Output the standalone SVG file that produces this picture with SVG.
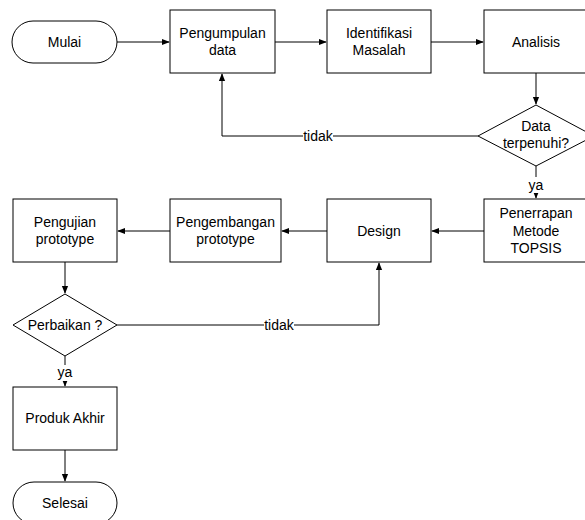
<svg xmlns="http://www.w3.org/2000/svg" width="585" height="520" viewBox="0 0 585 520">
<defs>
<style>
.n{fill:#fff;stroke:#000;stroke-width:1}
.t{font-family:"Liberation Sans",Arial,sans-serif;font-size:14px;fill:#000;text-anchor:middle}
.c{fill:none;stroke:#000;stroke-width:1}
.lb{fill:#fff}
</style>
<marker id="a" viewBox="0 0 10 10" refX="9" refY="5" markerWidth="8" markerHeight="8" markerUnits="userSpaceOnUse" orient="auto">
<path d="M0,1 L10,5 L0,9 Z" fill="#000"/>
</marker>
</defs>
<rect width="585" height="520" fill="#fff"/>
<g id="connectors">
<path class="c" d="M117,42 H169" marker-end="url(#a)"/>
<path class="c" d="M275,42 H326" marker-end="url(#a)"/>
<path class="c" d="M431,42 H483" marker-end="url(#a)"/>
<path class="c" d="M536,73 V104" marker-end="url(#a)"/>
<path class="c" d="M478,136 H222 V74" marker-end="url(#a)"/>
<rect class="lb" x="303" y="128" width="30" height="16"/>
<text class="t" x="318" y="141">tidak</text>
<path class="c" d="M536,166 V198" marker-end="url(#a)"/>
<rect class="lb" x="528" y="177" width="16" height="16"/>
<text class="t" x="536" y="190">ya</text>
<path class="c" d="M484,231 H432" marker-end="url(#a)"/>
<path class="c" d="M327,231 H282" marker-end="url(#a)"/>
<path class="c" d="M170,231 H118" marker-end="url(#a)"/>
<path class="c" d="M65,262 V293" marker-end="url(#a)"/>
<path class="c" d="M117,325 H379 V263" marker-end="url(#a)"/>
<rect class="lb" x="264" y="317" width="30" height="16"/>
<text class="t" x="279" y="330">tidak</text>
<path class="c" d="M65,356 V386" marker-end="url(#a)"/>
<rect class="lb" x="57" y="365" width="16" height="16"/>
<text class="t" x="65" y="377">ya</text>
<path class="c" d="M65,450 V481" marker-end="url(#a)"/>
</g>
<g id="mulai"><rect class="n" x="12" y="21" width="105" height="42" rx="21"/><text class="t" x="64.5" y="47">Mulai</text></g>
<g id="pengumpulan"><rect class="n" x="170" y="10" width="105" height="63"/><text class="t" x="222.5" y="38">Pengumpulan</text><text class="t" x="222.5" y="55">data</text></g>
<g id="identifikasi"><rect class="n" x="327" y="10" width="104" height="63"/><text class="t" x="379" y="38">Identifikasi</text><text class="t" x="379" y="55">Masalah</text></g>
<g id="analisis"><rect class="n" x="484" y="10" width="105" height="63"/><text class="t" x="536" y="47">Analisis</text></g>
<g id="data-terpenuhi"><path class="n" d="M536,105 L594,136 L536,166 L478,136 Z"/><text class="t" x="536" y="131">Data</text><text class="t" x="536" y="148">terpenuhi?</text></g>
<g id="penerrapan"><rect class="n" x="484" y="199" width="105" height="63"/><text class="t" x="536" y="218">Penerrapan</text><text class="t" x="536" y="235.5">Metode</text><text class="t" x="536" y="253">TOPSIS</text></g>
<g id="design"><rect class="n" x="327" y="199" width="104" height="63"/><text class="t" x="379" y="236">Design</text></g>
<g id="pengembangan"><rect class="n" x="170" y="199" width="111" height="63"/><text class="t" x="225.5" y="227">Pengembangan</text><text class="t" x="225.5" y="244">prototype</text></g>
<g id="pengujian"><rect class="n" x="13" y="199" width="104" height="63"/><text class="t" x="65" y="227">Pengujian</text><text class="t" x="65" y="244">prototype</text></g>
<g id="perbaikan"><path class="n" d="M65,294 L117,325 L65,356 L13,325 Z"/><text class="t" x="65" y="330">Perbaikan ?</text></g>
<g id="produk"><rect class="n" x="13" y="387" width="104" height="63"/><text class="t" x="65" y="423">Produk Akhir</text></g>
<g id="selesai"><rect class="n" x="13" y="482" width="104" height="42" rx="21"/><text class="t" x="65" y="508">Selesai</text></g>
</svg>
